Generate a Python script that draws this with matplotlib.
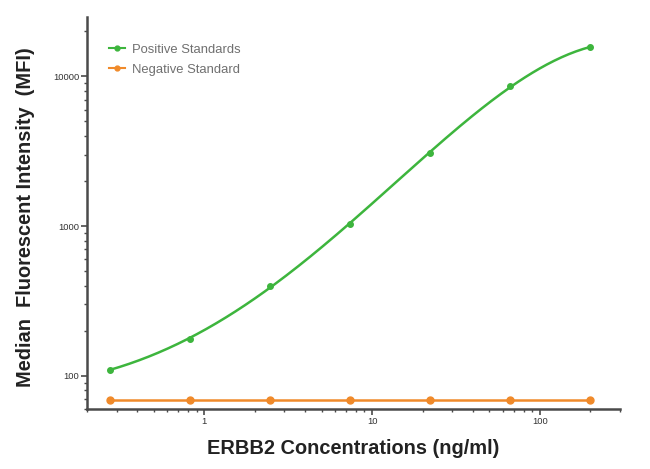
import numpy as np
import matplotlib
matplotlib.use("Agg")
import matplotlib.pyplot as plt
from matplotlib.ticker import LogLocator, FixedLocator, NullFormatter

plt.rcParams["font.family"] = ["Liberation Sans", "DejaVu Sans"]

# ERBB2 standards, 3-fold dilution series
conc = [0.274, 0.823, 2.47, 7.41, 22.2, 66.7, 200.0]
pos_mfi = [110, 176, 400, 1040, 3100, 8600, 15700]
neg_mfi = [68.5, 68.5, 68.5, 68.5, 68.5, 68.5, 68.5]

GREEN = "#3db53d"
ORANGE = "#f08a2a"
AXCOL = "#4a4a4a"

fig = plt.figure(figsize=(6.5, 4.69), dpi=100)
ax = fig.add_axes([0.1338, 0.128, 0.82, 0.836])

# smooth fitted curve through the positive standards (polynomial in log-log space)
lx = np.log10(conc)
ly = np.log10(pos_mfi)
coef = np.polyfit(lx, ly, 4)
xs = np.linspace(lx[0], lx[-1], 200)
ax.plot(10 ** xs, 10 ** np.polyval(coef, xs), color=GREEN, lw=1.8, zorder=3)
ax.plot(conc, pos_mfi, "o", color=GREEN, ms=4, zorder=4)
ax.plot(conc, neg_mfi, "-o", color=ORANGE, lw=1.8, ms=5, zorder=3)

# legend proxies
ax.plot([], [], "-o", color=GREEN, lw=1.5, ms=3.5, label="Positive Standards")
ax.plot([], [], "-o", color=ORANGE, lw=1.5, ms=3.5, label="Negative Standard")
leg = ax.legend(loc="upper left", bbox_to_anchor=(0.02, 0.962), frameon=False,
                fontsize=9.4, handlelength=1.2, handletextpad=0.55, labelspacing=0.6)
for t in leg.get_texts():
    t.set_color("#707070")

ax.set_xscale("log")
ax.set_yscale("log")
ax.set_xlim(0.2, 300)
ax.set_ylim(60, 25000)

ax.xaxis.set_major_locator(FixedLocator([1, 10, 100]))
ax.xaxis.set_minor_locator(LogLocator(base=10, subs=np.arange(2, 10), numticks=20))
ax.xaxis.set_minor_formatter(NullFormatter())
ax.set_xticklabels(["1", "10", "100"])
ax.yaxis.set_major_locator(FixedLocator([100, 1000, 10000]))
ax.yaxis.set_minor_locator(LogLocator(base=10, subs=np.arange(2, 10), numticks=20))
ax.yaxis.set_minor_formatter(NullFormatter())
ax.set_yticklabels(["100", "1000", "10000"])

for side in ["top", "right"]:
    ax.spines[side].set_visible(False)
for side in ["left", "bottom"]:
    ax.spines[side].set_color(AXCOL)
    ax.spines[side].set_linewidth(1.8)
ax.tick_params(which="major", length=4, width=1.2, color=AXCOL, labelsize=6.8,
               labelcolor="#333333", pad=1.5)
ax.tick_params(which="minor", length=2.5, width=1.0, color=AXCOL)

ax.set_xlabel("ERBB2 Concentrations (ng/ml)", fontsize=14.4, fontweight="bold",
              color="#222222", labelpad=10)
ax.set_ylabel("Median  Fluorescent Intensity  (MFI)", fontsize=14.4, fontweight="bold",
              color="#222222", labelpad=13)
ax.yaxis.label.set_y(0.49)

fig.savefig("out.png", dpi=100)
